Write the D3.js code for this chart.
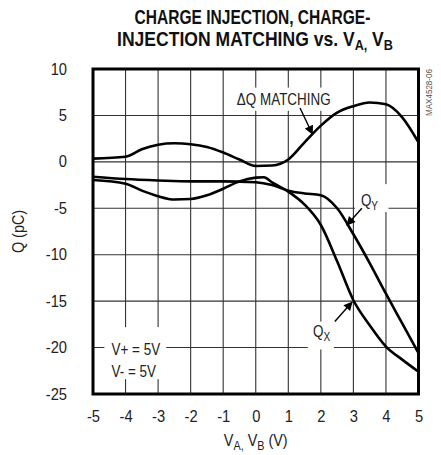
<!DOCTYPE html>
<html>
<head>
<meta charset="utf-8">
<script src="https://cdn.jsdelivr.net/npm/d3@7"></script>
<style>
  html, body { margin: 0; padding: 0; background: #fff; }
  svg { display: block; }
  text { font-family: "Liberation Sans", Arial, sans-serif; }
</style>
</head>
<body>
<svg id="chart" width="441" height="455"></svg>
<script>
// ---- data ----
const xTicks = [-5, -4, -3, -2, -1, 0, 1, 2, 3, 4, 5];
const yTicks = [10, 5, 0, -5, -10, -15, -20, -25];

const dqV = [-5, -4, -3.5, -3, -2.5, -2, -1.5, -1, -0.5, 0, 0.5, 1, 1.5, 2, 2.5, 3, 3.5, 4, 4.5, 5];
const dqQ = [0.35, 0.55, 1.35, 1.85, 2.0, 1.9, 1.6, 1.0, 0.25, -0.45, -0.4, 0.25, 2.1, 3.9, 5.3, 6.0, 6.4, 6.2, 4.8, 2.1];

const qxV = [-5, -4, -3.5, -3, -2.5, -2, -1.5, -1, -0.5, 0, 0.25, 0.5, 1, 1.5, 2, 2.5, 3, 3.5, 4, 4.5, 5];
const qxQ = [-1.95, -2.35, -3.1, -3.7, -4.05, -4.0, -3.6, -2.9, -2.1, -1.7, -1.65, -2.2, -3.2, -4.6, -6.8, -10.7, -14.9, -17.6, -19.9, -21.3, -22.6];

const qyV = [-5, -4, -3, -2, -1, 0, 0.5, 1, 1.5, 2, 2.5, 3, 3.5, 4, 4.5, 5];
const qyQ = [-1.6, -1.85, -2.0, -2.1, -2.1, -2.2, -2.5, -3.1, -3.4, -3.6, -5.0, -7.8, -10.9, -14.2, -17.4, -20.6];

const seriesNames = ["\u0394Q MATCHING", "Q", "Q"];

// ---- layout ----
const svg = d3.select("#chart");
const L = 93, R = 418.5, T = 69, B = 394;
const x = d3.scaleLinear().domain([-5, 5]).range([L, R]);
const y = d3.scaleLinear().domain([-25, 10]).range([B, T]);
const TXT = "#222";
const NARROW = 0.84;

// fit a text (anchored middle at 0,0) to a target width
function fitText(sel, cx, cy, width) {
  const w = sel.node().getBBox().width;
  sel.attr("transform", `translate(${cx},${cy}) scale(${width / w},1)`);
}
// narrow label placed with its start at (px,py)
function narrow(parent, px, py, size) {
  const gg = parent.append("g").attr("transform", `translate(${px},${py}) scale(${NARROW},1)`);
  return gg.append("text").attr("font-size", size).attr("fill", TXT);
}

// title
const t1 = svg.append("text").attr("text-anchor", "middle")
  .attr("font-weight", "bold").attr("font-size", 19.5).attr("fill", "#111")
  .text("CHARGE INJECTION, CHARGE-");
fitText(t1, 252.5, 24, 236);
const t2 = svg.append("text").attr("text-anchor", "middle")
  .attr("font-weight", "bold").attr("font-size", 19.5).attr("fill", "#111");
t2.append("tspan").text("INJECTION MATCHING vs. V");
t2.append("tspan").attr("font-size", 14).attr("dy", 4).text("A,");
t2.append("tspan").attr("dy", -4).text(" V");
t2.append("tspan").attr("font-size", 14).attr("dy", 4).text("B");
fitText(t2, 255, 46, 276);

// grid
const g = svg.append("g");
g.selectAll("line.vx").data(xTicks.slice(1, -1)).join("line")
  .attr("x1", d => x(d)).attr("x2", d => x(d)).attr("y1", T).attr("y2", B)
  .attr("stroke", "#333").attr("stroke-width", 1.1);
g.selectAll("line.hy").data(yTicks.slice(1, -1)).join("line")
  .attr("x1", L).attr("x2", R).attr("y1", d => y(d)).attr("y2", d => y(d))
  .attr("stroke", "#333").attr("stroke-width", 1.1);

// label backgrounds
function box(v0, v1, q0, q1) {
  svg.append("rect").attr("x", x(v0)).attr("y", y(q1))
    .attr("width", x(v1) - x(v0)).attr("height", y(q0) - y(q1)).attr("fill", "#fff");
}
box(-0.62, 2.5, 5.5, 8.0);      // ΔQ MATCHING
box(3.05, 4.08, -5.4, -2.4);    // QY
box(1.6, 2.4, -20.2, -17.2);    // QX
box(-4.65, -2.75, -23.4, -17.8); // V+ / V-

// curves
const line = d3.line().x(d => x(d[0])).y(d => y(d[1])).curve(d3.curveMonotoneX);
const series = [d3.zip(dqV, dqQ), d3.zip(qxV, qxQ), d3.zip(qyV, qyQ)];
svg.selectAll("path.curve").data(series).join("path")
  .attr("class", "curve").attr("d", line)
  .attr("fill", "none").attr("stroke", "#000").attr("stroke-width", 2.6)
  .attr("stroke-linejoin", "round");

// frame
svg.append("rect").attr("x", L).attr("y", T).attr("width", R - L).attr("height", B - T)
  .attr("fill", "none").attr("stroke", "#000").attr("stroke-width", 3);

// axes
const fmt = d => String(d);
const yAxis = d3.axisLeft(y).tickValues(yTicks).tickFormat(fmt).tickSize(0).tickPadding(26);
const xAxis = d3.axisBottom(x).tickValues(xTicks).tickFormat(fmt).tickSize(0).tickPadding(17);
const ya = svg.append("g").attr("transform", `translate(${L},0)`).call(yAxis);
const xa = svg.append("g").attr("transform", `translate(0,${B})`).call(xAxis);
[ya, xa].forEach(a => {
  a.select(".domain").remove();
  a.selectAll("text").attr("font-size", 16).attr("fill", TXT)
    .attr("font-family", "'Liberation Sans', Arial, sans-serif");
});
ya.selectAll("text").attr("x", 0).attr("transform", "translate(-26,0) scale(0.92,1)");
xa.selectAll("text").attr("transform", "scale(0.92,1)");

// axis titles
svg.append("g").attr("transform", `translate(24,${(T + B) / 2}) rotate(-90) scale(0.9,1)`)
  .append("text").attr("text-anchor", "middle").attr("font-size", 16).attr("fill", TXT).text("Q (pC)");
const xl = svg.append("g").attr("transform", `translate(${(L + R) / 2},446) scale(0.9,1)`)
  .append("text").attr("text-anchor", "middle").attr("font-size", 16).attr("fill", TXT);
xl.append("tspan").text("V");
xl.append("tspan").attr("font-size", 12).attr("dy", 4).text("A,");
xl.append("tspan").attr("dy", -4).text(" V");
xl.append("tspan").attr("font-size", 12).attr("dy", 4).text("B");
xl.append("tspan").attr("dy", -4).text(" (V)");

// side code
svg.append("g").attr("transform", `translate(432,${T}) rotate(-90) scale(0.85,1)`)
  .append("text").attr("text-anchor", "end").attr("font-size", 9.5).attr("fill", "#555").text("MAX4528-06");

// annotations
const defs = svg.append("defs");
defs.append("marker").attr("id", "ah").attr("viewBox", "0 0 10 10")
  .attr("refX", 9).attr("refY", 5).attr("markerWidth", 11).attr("markerHeight", 9)
  .attr("markerUnits", "userSpaceOnUse").attr("orient", "auto")
  .append("path").attr("d", "M0,0 L10,5 L0,10 Z").attr("fill", "#000");

const arrows = [
  [[1.36, 5.8], [1.74, 3.0]],
  [[3.26, -5.0], [2.8, -6.8]],
  [[2.43, -17.2], [2.96, -15.1]]
];
svg.selectAll("line.arr").data(arrows).join("line")
  .attr("x1", d => x(d[0][0])).attr("y1", d => y(d[0][1]))
  .attr("x2", d => x(d[1][0])).attr("y2", d => y(d[1][1]))
  .attr("stroke", "#000").attr("stroke-width", 1.4).attr("marker-end", "url(#ah)");

narrow(svg, x(-0.58), y(6.15), 16).text(seriesNames[0]);
const qy = narrow(svg, x(3.23), y(-4.75), 16);
qy.append("tspan").text(seriesNames[2]);
qy.append("tspan").attr("font-size", 12).attr("dy", 4).text("Y");
const qx = narrow(svg, x(1.76), y(-18.9), 16);
qx.append("tspan").text(seriesNames[1]);
qx.append("tspan").attr("font-size", 12).attr("dy", 4).text("X");
narrow(svg, x(-4.43), y(-20.8), 16).text("V+ = 5V");
narrow(svg, x(-4.43), y(-23.17), 16).text("V- = 5V");
</script>
</body>
</html>
